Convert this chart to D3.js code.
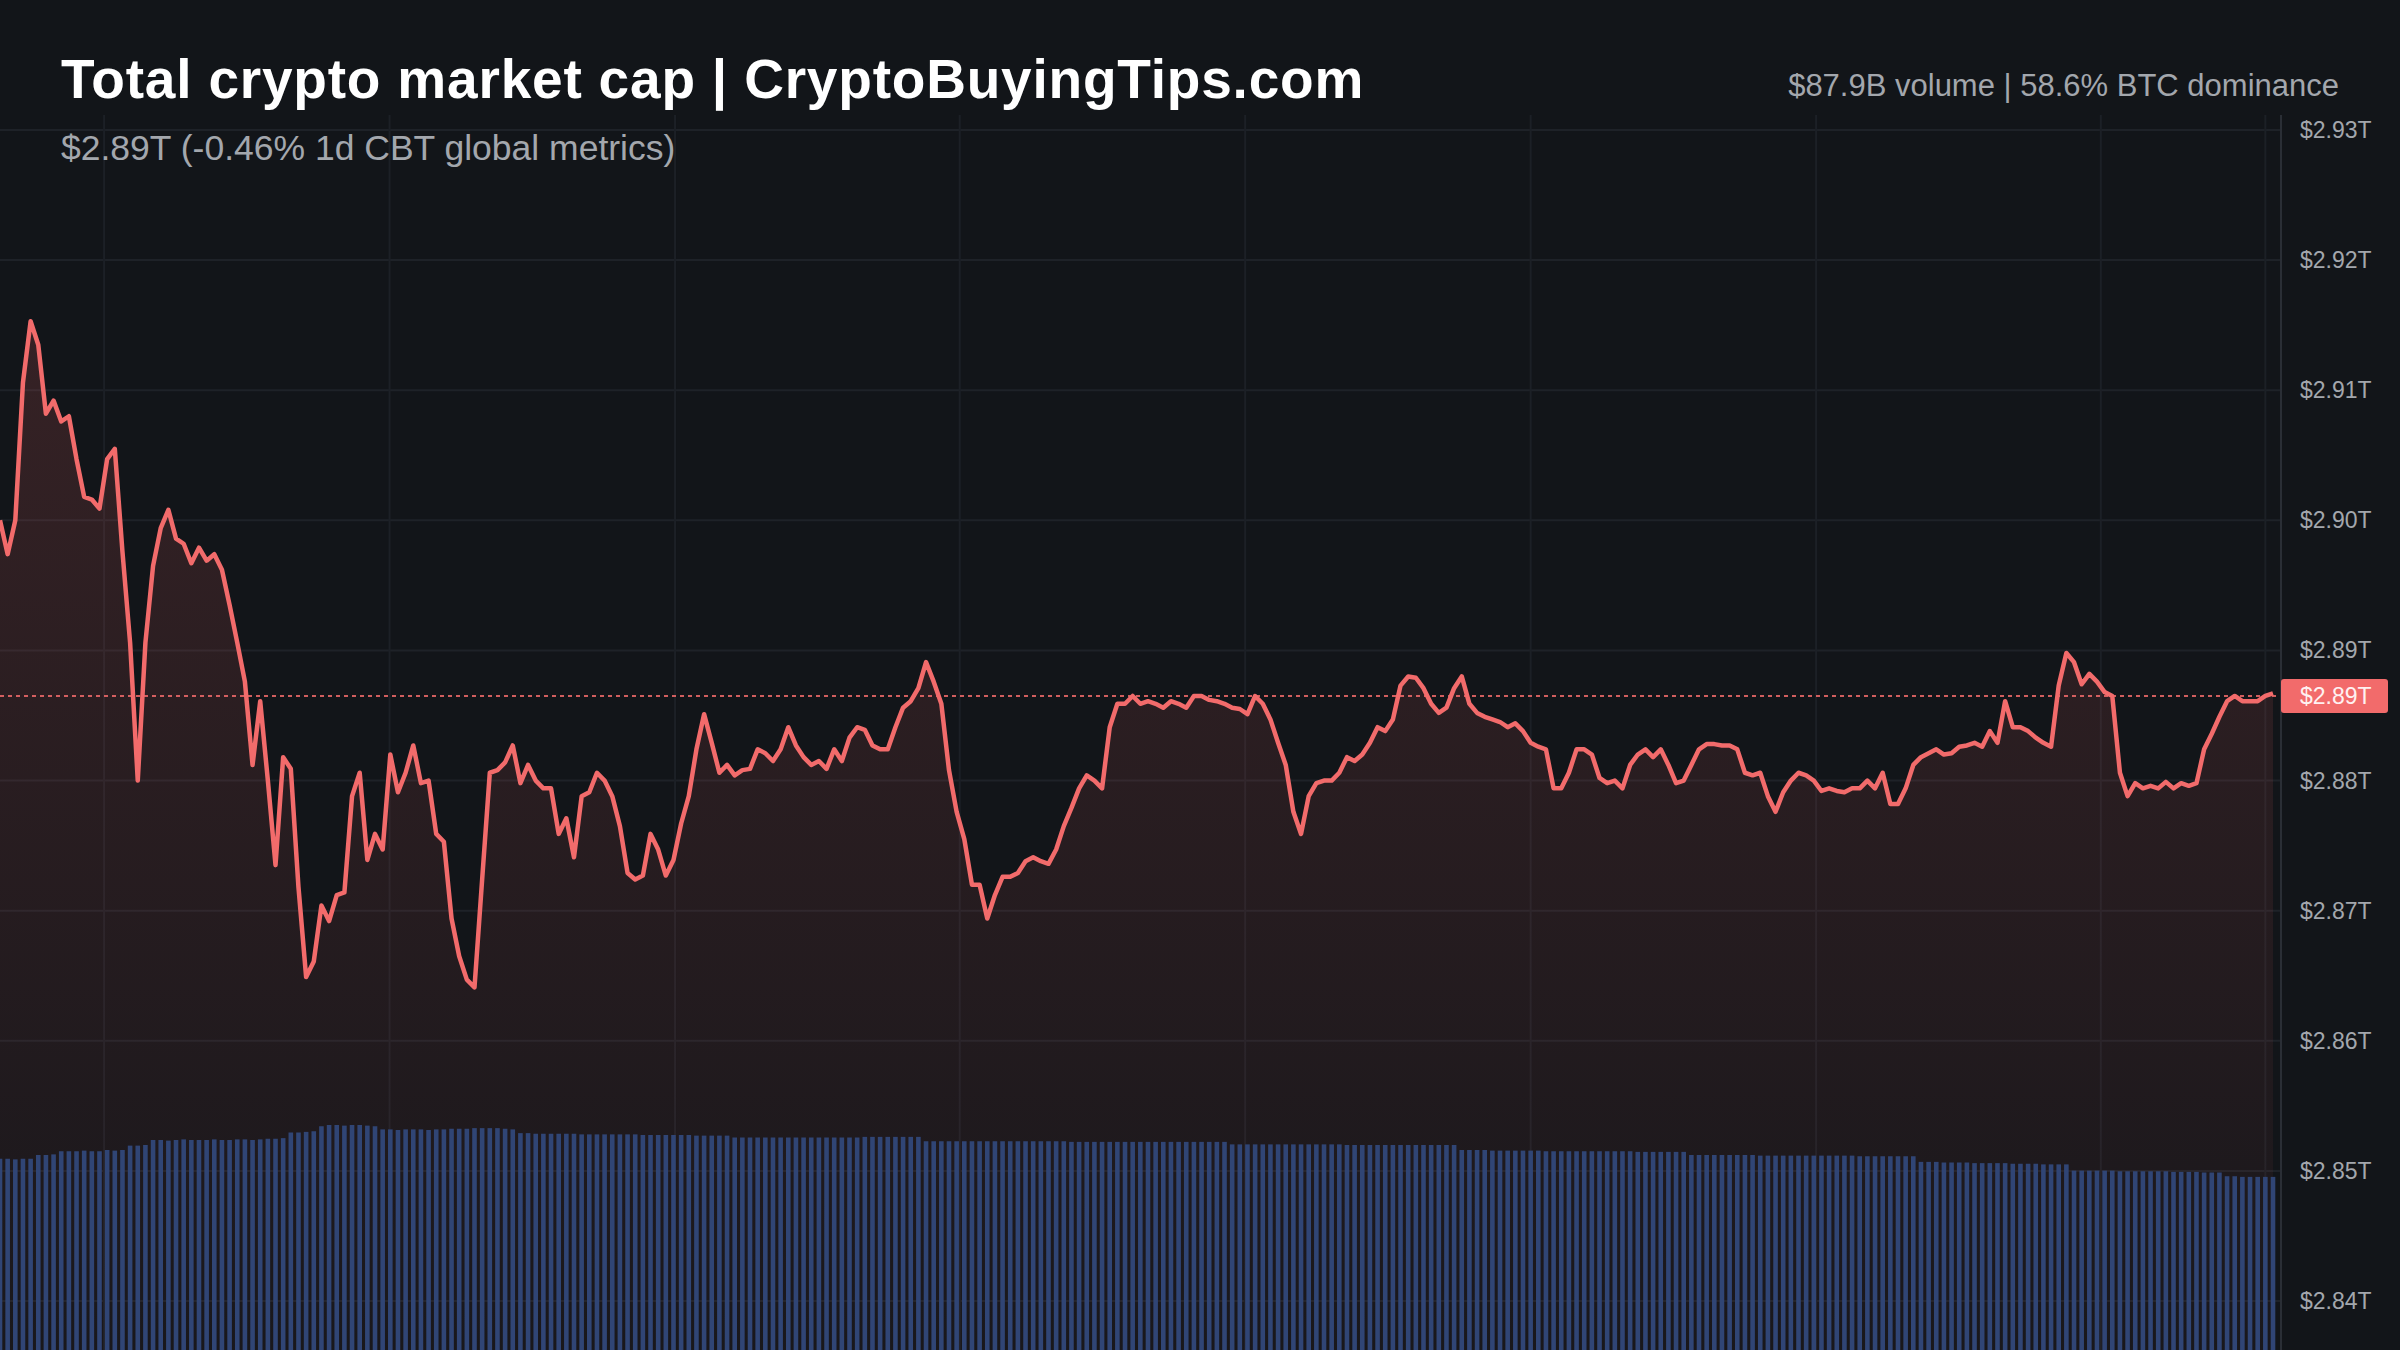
<!DOCTYPE html>
<html>
<head>
<meta charset="utf-8">
<script src="https://cdn.jsdelivr.net/npm/d3@7"></script>
<style>
  html, body { margin: 0; padding: 0; background: #121519; }
  svg { display: block; font-family: "Liberation Sans", Arial, sans-serif; }
</style>
</head>
<body>
<svg id="chart" width="2400" height="1350"></svg>
<script>
// market cap in $B, one reading per 5-minute step
var marketCap = [
  2900.0, 2897.4, 2900.0, 2910.6, 2915.3, 2913.5, 2908.2, 2909.2, 2907.6, 2908.0,
  2904.7, 2901.8, 2901.6, 2900.9, 2904.7, 2905.5, 2897.6, 2890.6, 2880.0, 2890.6,
  2896.5, 2899.4, 2900.8, 2898.6, 2898.2, 2896.7, 2897.9, 2896.9, 2897.4, 2896.2,
  2893.5, 2890.6, 2887.6, 2881.2, 2886.1, 2880.0, 2873.5, 2881.8, 2880.9, 2871.8,
  2864.9, 2866.1, 2870.4, 2869.2, 2871.2, 2871.4, 2878.8, 2880.6, 2873.9, 2875.9,
  2874.7, 2882.0, 2879.1, 2880.6, 2882.7, 2879.8, 2880.0, 2875.9, 2875.3, 2869.4,
  2866.5, 2864.7, 2864.1, 2872.4, 2880.6, 2880.8, 2881.4, 2882.7, 2879.8, 2881.2,
  2880.0, 2879.4, 2879.4, 2875.9, 2877.1, 2874.1, 2878.8, 2879.1, 2880.6, 2880.0,
  2878.8, 2876.5, 2872.9, 2872.4, 2872.7, 2875.9, 2874.7, 2872.7, 2873.9, 2876.7,
  2878.8, 2882.4, 2885.1, 2882.9, 2880.6, 2881.2, 2880.4, 2880.8, 2880.9, 2882.4,
  2882.1, 2881.5, 2882.4, 2884.1, 2882.7, 2881.8, 2881.2, 2881.5, 2880.9, 2882.4,
  2881.5, 2883.3, 2884.1, 2883.9, 2882.7, 2882.4, 2882.4, 2884.1, 2885.6, 2886.1,
  2887.1, 2889.1, 2887.6, 2885.9, 2880.8, 2877.6, 2875.5, 2872.0, 2872.0, 2869.4,
  2871.2, 2872.6, 2872.6, 2872.9, 2873.8, 2874.1, 2873.8, 2873.6, 2874.7, 2876.5,
  2877.9, 2879.4, 2880.4, 2880.0, 2879.4, 2884.1, 2885.9, 2885.9, 2886.5, 2885.9,
  2886.1, 2885.9, 2885.6, 2886.1, 2885.9, 2885.6, 2886.5, 2886.5, 2886.2, 2886.1,
  2885.9, 2885.6, 2885.5, 2885.1, 2886.5, 2885.9, 2884.7, 2882.9, 2881.2, 2877.6,
  2875.9, 2878.8, 2879.8, 2880.0, 2880.0, 2880.6, 2881.8, 2881.5, 2882.0, 2882.9,
  2884.1, 2883.8, 2884.7, 2887.3, 2888.0, 2887.9, 2887.1, 2885.9, 2885.2, 2885.6,
  2887.1, 2888.0, 2885.9, 2885.2, 2884.9, 2884.7, 2884.5, 2884.1, 2884.4, 2883.8,
  2882.9, 2882.6, 2882.4, 2879.4, 2879.4, 2880.6, 2882.4, 2882.4, 2882.0, 2880.2,
  2879.8, 2880.0, 2879.4, 2881.2, 2882.0, 2882.4, 2881.8, 2882.4, 2881.2, 2879.8,
  2880.0, 2881.2, 2882.4, 2882.8, 2882.8, 2882.7, 2882.7, 2882.4, 2880.6, 2880.4,
  2880.6, 2878.8, 2877.6, 2879.1, 2880.0, 2880.6, 2880.4, 2880.0, 2879.2, 2879.4,
  2879.2, 2879.1, 2879.4, 2879.4, 2880.0, 2879.4, 2880.6, 2878.2, 2878.2, 2879.4,
  2881.2, 2881.8, 2882.1, 2882.4, 2882.0, 2882.1, 2882.6, 2882.7, 2882.9, 2882.6,
  2883.8, 2882.9, 2886.1, 2884.1, 2884.1, 2883.8, 2883.3, 2882.9, 2882.6, 2887.3,
  2889.8, 2889.1, 2887.4, 2888.2, 2887.6, 2886.8, 2886.5, 2880.6, 2878.8, 2879.8,
  2879.4, 2879.6, 2879.4, 2879.9, 2879.4, 2879.8, 2879.6, 2879.8, 2882.4, 2883.6,
  2884.9, 2886.1, 2886.5, 2886.1, 2886.1, 2886.1, 2886.5, 2886.7
];

// volume in $B per step
var volume = [
  3.06, 3.06, 3.05, 3.06, 3.06, 3.12, 3.12, 3.13, 3.18, 3.18,
  3.18, 3.19, 3.18, 3.18, 3.20, 3.19, 3.20, 3.27, 3.27, 3.28,
  3.36, 3.36, 3.35, 3.36, 3.37, 3.36, 3.36, 3.36, 3.37, 3.36,
  3.36, 3.37, 3.37, 3.36, 3.37, 3.38, 3.38, 3.39, 3.48, 3.48,
  3.49, 3.50, 3.58, 3.60, 3.60, 3.59, 3.60, 3.60, 3.59, 3.58,
  3.53, 3.53, 3.52, 3.53, 3.53, 3.53, 3.52, 3.53, 3.53, 3.54,
  3.54, 3.54, 3.55, 3.55, 3.55, 3.55, 3.54, 3.53, 3.47, 3.47,
  3.46, 3.46, 3.46, 3.46, 3.46, 3.46, 3.45, 3.45, 3.45, 3.45,
  3.45, 3.45, 3.45, 3.45, 3.44, 3.44, 3.44, 3.44, 3.44, 3.44,
  3.44, 3.43, 3.43, 3.43, 3.43, 3.43, 3.40, 3.40, 3.40, 3.40,
  3.40, 3.40, 3.40, 3.40, 3.40, 3.40, 3.40, 3.40, 3.40, 3.40,
  3.40, 3.40, 3.40, 3.41, 3.41, 3.41, 3.41, 3.41, 3.41, 3.41,
  3.41, 3.34, 3.34, 3.34, 3.34, 3.34, 3.34, 3.34, 3.34, 3.34,
  3.34, 3.34, 3.34, 3.34, 3.34, 3.34, 3.34, 3.34, 3.34, 3.34,
  3.33, 3.33, 3.33, 3.33, 3.33, 3.33, 3.33, 3.33, 3.33, 3.33,
  3.33, 3.33, 3.33, 3.33, 3.33, 3.33, 3.33, 3.33, 3.33, 3.33,
  3.33, 3.29, 3.29, 3.29, 3.29, 3.29, 3.29, 3.29, 3.29, 3.29,
  3.29, 3.29, 3.29, 3.29, 3.29, 3.29, 3.28, 3.28, 3.28, 3.28,
  3.28, 3.28, 3.28, 3.28, 3.28, 3.28, 3.28, 3.28, 3.28, 3.28,
  3.28, 3.20, 3.20, 3.20, 3.20, 3.19, 3.19, 3.19, 3.19, 3.19,
  3.19, 3.19, 3.18, 3.18, 3.18, 3.18, 3.18, 3.18, 3.18, 3.18,
  3.18, 3.18, 3.18, 3.18, 3.17, 3.17, 3.17, 3.17, 3.17, 3.17,
  3.17, 3.12, 3.12, 3.12, 3.12, 3.12, 3.12, 3.12, 3.12, 3.12,
  3.11, 3.11, 3.11, 3.11, 3.11, 3.11, 3.11, 3.11, 3.11, 3.11,
  3.11, 3.11, 3.11, 3.10, 3.10, 3.10, 3.10, 3.10, 3.10, 3.10,
  3.10, 3.01, 3.01, 3.01, 3.00, 3.00, 3.00, 3.00, 2.99, 2.99,
  2.99, 2.99, 2.99, 2.98, 2.98, 2.98, 2.98, 2.97, 2.97, 2.97,
  2.97, 2.87, 2.87, 2.87, 2.87, 2.87, 2.87, 2.86, 2.86, 2.86,
  2.86, 2.86, 2.86, 2.86, 2.85, 2.85, 2.85, 2.85, 2.84, 2.84,
  2.84, 2.78, 2.78, 2.77, 2.77, 2.77, 2.77, 2.77
];

var yTicks = [2840, 2850, 2860, 2870, 2880, 2890, 2900, 2910, 2920, 2930];
var timeGrid = [13.6, 50.9, 88.2, 125.4, 162.7, 200, 237.3, 274.5, 296];
var lastPrice = 2886.5;

var titleText = "Total crypto market cap | CryptoBuyingTips.com";
var subText = "$2.89T (-0.46% 1d CBT global metrics)";
var statsText = "$87.9B volume | 58.6% BTC dominance";

var svg = d3.select("#chart");
var W = 2400, H = 1350, plotRight = 2281;

var x = d3.scaleLinear().domain([0, marketCap.length - 1]).range([0, 2273]);
var y = d3.scaleLinear().domain([2840, 2930]).range([1301, 130]);
var v = d3.scaleLinear().domain([0, 4]).range([H, 1100]);

svg.append("rect").attr("width", W).attr("height", H).attr("fill", "#121519");

// gridlines
svg.append("g").selectAll("line").data(yTicks).join("line")
  .attr("x1", 0).attr("x2", plotRight)
  .attr("y1", d => y(d)).attr("y2", d => y(d))
  .attr("stroke", "#1e2228").attr("stroke-width", 2);
svg.append("g").selectAll("line").data(timeGrid).join("line")
  .attr("x1", d => x(d)).attr("x2", d => x(d))
  .attr("y1", 115).attr("y2", H)
  .attr("stroke", "#1c2026").attr("stroke-width", 2);

// area under price
var defs = svg.append("defs");
var grad = defs.append("linearGradient").attr("id", "areaGrad")
  .attr("x1", 0).attr("x2", 0).attr("y1", 0).attr("y2", 1);
grad.append("stop").attr("offset", "0%").attr("stop-color", "#f26464").attr("stop-opacity", 0.16);
grad.append("stop").attr("offset", "100%").attr("stop-color", "#f26464").attr("stop-opacity", 0.03);

var area = d3.area()
  .x((d, i) => x(i))
  .y0(H)
  .y1(d => y(d));
svg.append("path").datum(marketCap).attr("d", area).attr("fill", "url(#areaGrad)");

// volume bars
svg.append("g").selectAll("rect").data(volume).join("rect")
  .attr("x", (d, i) => x(i) - 2.3)
  .attr("width", 4.6)
  .attr("y", d => v(d))
  .attr("height", d => H - v(d))
  .attr("fill", "#304575");

// last price line
svg.append("line")
  .attr("x1", 0).attr("x2", plotRight)
  .attr("y1", y(lastPrice)).attr("y2", y(lastPrice))
  .attr("stroke", "#f26b6b").attr("stroke-width", 2)
  .attr("stroke-dasharray", "4,4").attr("opacity", 0.85);

// price line
var line = d3.line().x((d, i) => x(i)).y(d => y(d));
svg.append("path").datum(marketCap).attr("d", line)
  .attr("fill", "none").attr("stroke", "#f26b6b")
  .attr("stroke-width", 4.5).attr("stroke-linejoin", "round");

// right axis
svg.append("line").attr("x1", plotRight).attr("x2", plotRight)
  .attr("y1", 115).attr("y2", H).attr("stroke", "#2a2e35").attr("stroke-width", 2);
svg.append("g").selectAll("text").data(yTicks).join("text")
  .attr("x", 2300).attr("y", d => y(d) + 8)
  .attr("fill", "#a3a7ad").attr("font-size", 23)
  .text(d => "$" + d3.format(".2f")(d / 1000) + "T");

// last price badge
var badge = svg.append("g").attr("transform", "translate(2281," + y(lastPrice) + ")");
badge.append("rect").attr("x", 0).attr("y", -17).attr("width", 107).attr("height", 34)
  .attr("rx", 3).attr("fill", "#f26b6b");
badge.append("text").attr("x", 19).attr("y", 8).attr("fill", "#fff1f1")
  .attr("font-size", 23).text("$" + d3.format(".2f")(lastPrice / 1000) + "T");

// titles
svg.append("text").attr("x", 61).attr("y", 98).attr("fill", "#ffffff")
  .attr("font-size", 55).attr("font-weight", "bold").attr("letter-spacing", 0.8).text(titleText);
svg.append("text").attr("x", 61).attr("y", 160).attr("fill", "#a3a7ad")
  .attr("font-size", 35.5).text(subText);
svg.append("text").attr("x", 2339).attr("y", 96).attr("text-anchor", "end")
  .attr("fill", "#a3a7ad").attr("font-size", 31).text(statsText);
</script>
</body>
</html>
